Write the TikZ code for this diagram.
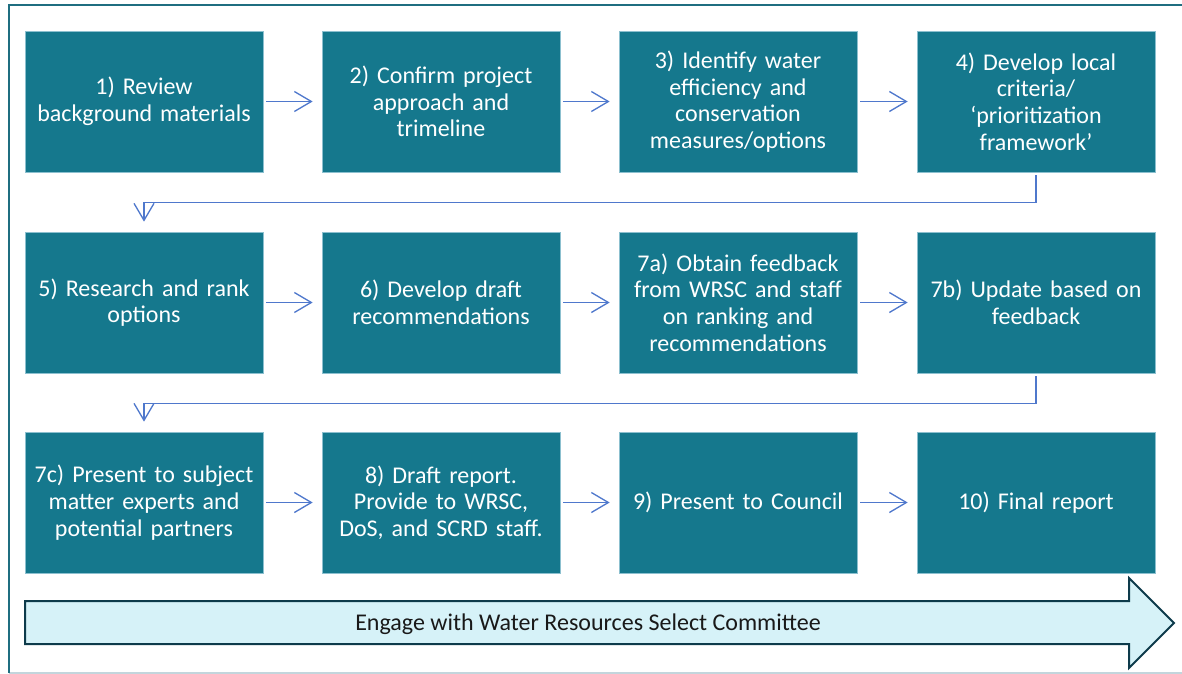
\documentclass[tikz,border=0pt]{standalone}
\usepackage{fontspec}
\setmainfont{Carlito}
\usetikzlibrary{arrows.meta}

\definecolor{stepteal}{HTML}{15788D}
\definecolor{stepedge}{HTML}{8CC0CF}
\definecolor{flowblue}{HTML}{4F78CC}
\definecolor{frameteal}{HTML}{1F6E80}
\definecolor{framelight}{HTML}{C3D5DC}
\definecolor{engagefill}{HTML}{D6F2F8}
\definecolor{engagedraw}{HTML}{0E3B4B}

\begin{document}
\begin{tikzpicture}[x=0.75pt,y=-0.75pt,
  stepbox/.style={fill=stepteal, draw=stepedge, line width=0.5pt,
    minimum width=178.5pt, minimum height=105.75pt, inner sep=0pt,
    text width=176pt, align=center, text=white,
    font=\fontsize{18}{20}\selectfont},
  flow/.style={draw=flowblue, line width=1pt,
    -{Straight Barb[length=12.75pt,width=15pt]},
    shorten <=2.25pt, shorten >=6.75pt}]
\useasboundingbox (0,0) rectangle (1182,674);

% frame
\draw [framelight, line width=1.2pt] (9,673) -- (1182,673);
\draw [frameteal, line width=1.6pt] (9,673) -- (9,5) -- (1182,5);

% first row
\node [stepbox] (s1) at (144,101.5) {1) Review\\ background materials};
\node [stepbox] (s2) at (441,101.5) {2) Confirm project\\ approach and\\ trimeline};
\node [stepbox] (s3) at (738,101.5) {3) Identify water\\ efficiency and\\ conservation\\ measures/options};
\node [stepbox] (s4) at (1036,101.5) {4) Develop local\\ criteria/\\ `prioritization\\ framework'};

% second row
\node [stepbox] (s5) at (144,302.5) {5) Research and rank\\ options};
\node [stepbox] (s6) at (441,302.5) {6) Develop draft\\ recommendations};
\node [stepbox] (s7a) at (738,302.5) {7a) Obtain feedback\\ from WRSC and staff\\ on ranking and\\ recommendations};
\node [stepbox] (s7b) at (1036,302.5) {7b) Update based on\\ feedback};

% third row
\node [stepbox] (s7c) at (144,502.5) {7c) Present to subject\\ matter experts and\\ potential partners};
\node [stepbox] (s8) at (441,502.5) {8) Draft report.\\ Provide to WRSC,\\ DoS, and SCRD staff.};
\node [stepbox] (s9) at (738,502.5) {9) Present to Council};
\node [stepbox] (s10) at (1036,502.5) {10) Final report};

% arrows
\draw [flow] (s1) -- (s2);
\draw [flow] (s2) -- (s3);
\draw [flow] (s3) -- (s4);
\draw [flow, shorten >=7.5pt] (s4.south) -- ++(0,30) -| (s5.north);
\draw [flow] (s5) -- (s6);
\draw [flow] (s6) -- (s7a);
\draw [flow] (s7a) -- (s7b);
\draw [flow, shorten >=7.5pt] (s7b.south) -- ++(0,30) -| (s7c.north);
\draw [flow] (s7c) -- (s8);
\draw [flow] (s8) -- (s9);
\draw [flow] (s9) -- (s10);

% engagement arrow
\draw [fill=engagefill, draw=engagedraw, line width=1.5pt, line join=miter]
  (25,601) -- (1129,601) -- (1129,578) -- (1174,623)
  -- (1129,668) -- (1129,644) -- (25,644) -- cycle;
\node [text=black!90, font=\fontsize{18}{20}\selectfont] (engage) at (588,624)
  {Engage with Water Resources Select Committee};

\end{tikzpicture}
\end{document}
